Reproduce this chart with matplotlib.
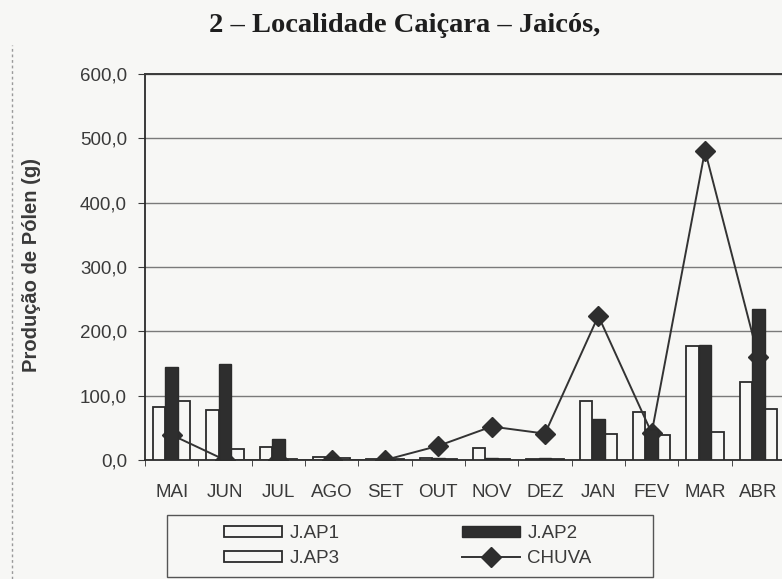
import matplotlib
matplotlib.use("Agg")
import matplotlib.pyplot as plt
import numpy as np
from matplotlib.lines import Line2D
from matplotlib.patches import Rectangle

months = ["MAI", "JUN", "JUL", "AGO", "SET", "OUT", "NOV", "DEZ", "JAN", "FEV", "MAR", "ABR"]
jap1 = [82, 78, 20, 5, 1, 3, 18, 1, 91, 74, 177, 122]
jap2 = [144, 150, 32, 5, 1, 3, 3, 3, 63, 48, 179, 234]
jap3 = [92, 17, 2, 3, 1, 1, 1, 1, 40, 39, 44, 80]
chuva = [39, 0, 0, 0, 0, 22, 52, 41, 224, 42, 481, 160]
yticks = [0, 100, 200, 300, 400, 500, 600]
title = "2 – Localidade Caiçara – Jaicós,"
ylabel = "Produção de Pólen (g)"

plt.rcParams["font.family"] = ["Liberation Sans", "DejaVu Sans"]

bg = "#f7f7f5"
ink = "#2b2b2b"
txt = "#3a3a3a"

fig = plt.figure(figsize=(7.82, 5.79), dpi=100, facecolor=bg)
ax = fig.add_axes([145/782, 1-460/579, 640/782, 386/579], facecolor=bg)

x = np.arange(len(months))
w = 0.234
b1 = ax.bar(x - w, jap1, w, facecolor=bg, edgecolor=ink, linewidth=1.3, label="J.AP1", zorder=3)
b2 = ax.bar(x, jap2, w, facecolor="#2e2e2e", edgecolor=ink, linewidth=1.0, label="J.AP2", zorder=5)
b3 = ax.bar(x + w, jap3, w, facecolor=bg, edgecolor=ink, linewidth=1.3, label="J.AP3", zorder=3)
ln, = ax.plot(x, chuva, color="#333333", lw=1.4, marker="D", markersize=10.5,
              markerfacecolor="#2e2e2e", markeredgecolor="#2e2e2e", label="CHUVA", zorder=4)

ax.set_xlim(-0.5, len(months) - 0.5)
ax.set_ylim(0, 600)
ax.set_yticks(yticks)
ax.set_yticklabels([f"{v:.1f}".replace(".", ",") for v in yticks])
ax.set_xticks(x)
ax.set_xticklabels(months)
ax.set_xticks(np.arange(-0.5, len(months), 1), minor=True)
ax.tick_params(axis="x", which="major", length=0, labelsize=13.5, colors=txt, pad=17)
ax.tick_params(axis="x", which="minor", length=4, color=ink, direction="out")
ax.tick_params(axis="y", length=5, labelsize=13.5, colors=txt, direction="out", pad=8)
ax.yaxis.grid(True, color="#7a7a7a", lw=1.0, zorder=0)
ax.spines["right"].set_visible(False)
ax.spines["top"].set_color("#3a3a3a")
ax.spines["top"].set_linewidth(1.4)
ax.spines["left"].set_color(ink)
ax.spines["bottom"].set_color(ink)
ax.spines["left"].set_linewidth(1.3)
ax.spines["bottom"].set_linewidth(1.3)

fig.text(32/782, 1-265/579, ylabel, rotation=90, ha="center", va="center",
         fontsize=14.5, fontweight="bold", color=txt)
fig.text(405/782, 1-25/579, title, ha="center", va="center", fontsize=20.5, fontweight="bold",
         family="Liberation Serif", color="#1e1e1e")

fig.add_artist(Rectangle((167/782, 2/579), 486/782, 62/579, transform=fig.transFigure,
                         facecolor="none", edgecolor="#555555", lw=1.0))
leg = fig.legend([b1, b3, b2, ln], ["J.AP1", "J.AP3", "J.AP2", "CHUVA"], ncol=2,
                 loc="center", bbox_to_anchor=(408/782, 1-546/579),
                 fontsize=13.5, frameon=False, handlelength=3.1, handleheight=0.55,
                 labelspacing=0.45, handletextpad=0.4, columnspacing=6.5)
for t in leg.get_texts():
    t.set_color(txt)

fig.add_artist(Line2D([12/782, 12/782], [0, 1-45/579], transform=fig.transFigure,
                      color="#9a9a9a", lw=1.0, ls=(0, (2, 2))))

fig.savefig("out.png", dpi=100, facecolor=bg)
